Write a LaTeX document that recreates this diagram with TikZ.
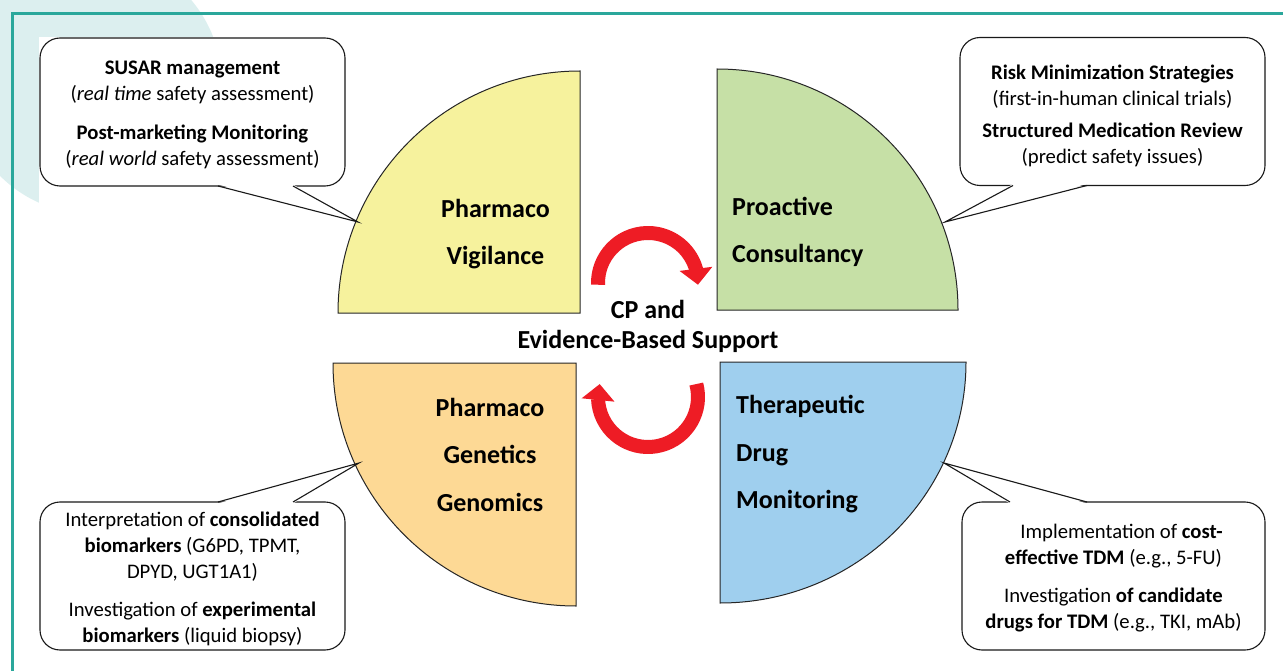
\documentclass[tikz,border=0pt]{standalone}
\usepackage{fontspec}
\setmainfont{Carlito}
\usetikzlibrary{arrows.meta,calc,bending}
\definecolor{frameteal}{HTML}{2AA79B}
\definecolor{bgteal}{HTML}{DCEFEF}
\definecolor{qyellow}{HTML}{F6F29D}
\definecolor{qgreen}{HTML}{C6E0A6}
\definecolor{qorange}{HTML}{FDD995}
\definecolor{qblue}{HTML}{9FCFEE}
\definecolor{cred}{HTML}{EE1C25}
\begin{document}
\begin{tikzpicture}[x=1pt,y=-1pt,
  quad/.style={draw=black!85, line width=1pt},
  qlabel/.style={font=\fontsize{26}{30}\selectfont\bfseries, inner sep=0pt},
  callout/.style={draw=black!90, line width=1.1pt, fill=white, rounded corners=20pt,
    minimum width=305pt, minimum height=148pt, outer sep=0pt, inner sep=0pt},
  callouttext/.style={align=center, font=\fontsize{20.7}{26}\selectfont, inner sep=0pt},
  pointer/.style={draw=black!90, line width=1.1pt, line join=miter},
  cycarrow/.style={draw=cred, line width=14pt, -{Triangle[width=32pt,length=16pt,flex]}},
]
\useasboundingbox (0,0) rectangle (1283,671);
\clip (0,0) rectangle (1283,671);
% background
\fill[bgteal] (92,84) circle[radius=130];
\fill[white] (39,37) rectangle (1283,671);
\draw[frameteal, line width=3pt] (12,671) -- (12,14) -- (1283,14);

% quadrants
\filldraw[quad, fill=qyellow] (580,313) -- (338,313) arc[start angle=180, end angle=270, radius=242] -- cycle;
\filldraw[quad, fill=qgreen] (717,310) -- (717,69) arc[start angle=270, end angle=360, radius=241] -- cycle;
\filldraw[quad, fill=qblue] (720,362) -- (966,362) arc[start angle=0, end angle=90, x radius=246, y radius=241] -- cycle;
\filldraw[quad, fill=qorange] (576,363) -- (576,606) arc[start angle=90, end angle=180, radius=243] -- cycle;

% quadrant labels
\node[qlabel, anchor=base] (pv1) at (495.5,218) {Pharmaco};
\node[qlabel, anchor=base] (pv2) at (495.5,265) {Vigilance};
\node[qlabel, anchor=base west] (pc1) at (732,216) {Proactive};
\node[qlabel, anchor=base west] (pc2) at (732,263) {Consultancy};
\node[qlabel, anchor=base] (pg1) at (490,416) {Pharmaco};
\node[qlabel, anchor=base] (pg2) at (490,463) {Genetics};
\node[qlabel, anchor=base] (pg3) at (490,511) {Genomics};
\node[qlabel, anchor=base west] (td1) at (736,413) {Therapeutic};
\node[qlabel, anchor=base west] (td2) at (736,461) {Drug};
\node[qlabel, anchor=base west] (td3) at (736,508) {Monitoring};

% centre text
\node[qlabel, anchor=base] (cp1) at (648,318) {CP and};
\node[qlabel, anchor=base] (cp2) at (648,348) {Evidence-Based Support};

% cycle arrows
\coordinate (ctop) at (648,283);
\coordinate (cbot) at (648,397);
\draw[cycarrow] ($(ctop)+(178:50)$) arc[start angle=178, end angle=362, radius=50];
\draw[cycarrow] ($(cbot)+(-15:50)$) arc[start angle=-15, end angle=195, radius=50];

% callout boxes
\node[callout] (c1) at (192.5,112) {};
\node[callout] (c2) at (1112.5,111.5) {};
\node[callout] (c3) at (192.5,576) {};
\node[callout, minimum width=303pt] (c4) at (1113.5,576) {};

% pointers
\coordinate (t1) at (358,222);
\coordinate (t2) at (945,222);
\coordinate (t3) at (359,463);
\coordinate (t4) at (944,463);
\fill[white] ($(c1.south)+(25.5,-1.5)$) -- (t1) -- ($(c1.south)+(100.5,-1.5)$) -- cycle;
\draw[pointer] ($(c1.south)+(25.5,0)$) -- (t1) -- ($(c1.south)+(100.5,0)$);
\fill[white] ($(c2.south)+(-99.5,-1.5)$) -- (t2) -- ($(c2.south)+(-25.5,-1.5)$) -- cycle;
\draw[pointer] ($(c2.south)+(-99.5,0)$) -- (t2) -- ($(c2.south)+(-25.5,0)$);
\fill[white] ($(c3.north)+(25.5,1.5)$) -- (t3) -- ($(c3.north)+(100.5,1.5)$) -- cycle;
\draw[pointer] ($(c3.north)+(25.5,0)$) -- (t3) -- ($(c3.north)+(100.5,0)$);
\fill[white] ($(c4.north)+(-103.5,1.5)$) -- (t4) -- ($(c4.north)+(-26.5,1.5)$) -- cycle;
\draw[pointer] ($(c4.north)+(-103.5,0)$) -- (t4) -- ($(c4.north)+(-26.5,0)$);

% callout texts
\node[callouttext] (c1t) at ($(c1.center)+(0,3)$) {\textbf{SUSAR management}\\(\textit{real time} safety assessment)\\[13pt]\textbf{Post-marketing Monitoring}\\(\textit{real world} safety assessment)};
\node[callouttext] (c2t) at ($(c2.center)+(0,4.5)$) {\textbf{Risk Minimization Strategies}\\(first-in-human clinical trials)\\[6pt]\textbf{Structured Medication Review}\\(predict safety issues)};
\node[callouttext] (c3t) at ($(c3.center)+(0,2.5)$) {Interpretation of \textbf{consolidated}\\\textbf{biomarkers} (G6PD, TPMT,\\DPYD, UGT1A1)\\[12pt]Investigation of \textbf{experimental}\\\textbf{biomarkers} (liquid biopsy)};
\node[callouttext] (c4t) at ($(c4.center)+(0,2)$) {\hspace*{16pt}Implementation of \textbf{cost-}\\\textbf{effective TDM} (e.g., 5-FU)\\[12pt]Investigation \textbf{of candidate}\\\textbf{drugs for TDM} (e.g., TKI, mAb)};
\end{tikzpicture}
\end{document}
